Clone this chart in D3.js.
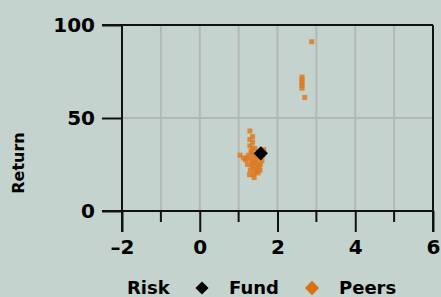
<!DOCTYPE html>
<html>
<head>
<meta charset="utf-8">
<script src="https://cdn.jsdelivr.net/npm/d3@7"></script>
<style>
  body { margin: 0; background: #c5d3ce; }
  svg { display: block; font-family: "DejaVu Sans", sans-serif; font-weight: bold; }
</style>
</head>
<body>
<svg id="chart" width="441" height="297"></svg>
<script>
// risk / return scatter: fund vs peers

var xTicks = [-2, 0, 2, 4, 6]
var xMinorTicks = [-1, 1, 3, 5]
var yTicks = [0, 50, 100]

var fundRisk = [1.57]
var fundReturn = [31]

var peersRisk = [1.29, 1.36, 1.29, 1.36, 1.29, 1.36, 1.42, 1.32, 1.04, 1.12, 1.18, 1.25, 1.30, 1.38,
  1.45, 1.52, 1.60, 1.56, 1.23, 1.35, 1.48, 1.40, 1.30, 1.55, 1.45, 1.28, 1.38, 1.50, 1.42, 1.33,
  1.65, 1.62, 1.40, 1.47, 1.34, 1.52, 1.40, 1.20,
  2.88, 2.63, 2.63, 2.63, 2.63, 2.63, 2.70]
var peersReturn = [43, 40, 38.5, 37, 35, 34, 33.5, 32, 30, 28.5, 27.5, 30, 28, 27,
  29, 28.5, 27, 25, 25, 24, 23.5, 22.5, 22, 22, 21, 19.5, 19.5, 20.5, 26, 31,
  33, 30, 30, 26, 25.5, 24, 18, 28.5,
  91, 72, 70.5, 69, 67.5, 66, 61]

var svg = d3.select('#chart')
var plotLeft = 122, plotRight = 433, plotTop = 25, plotBottom = 211

var x = d3.scaleLinear().domain([-2, 6]).range([plotLeft, plotRight])
var y = d3.scaleLinear().domain([0, 100]).range([plotBottom, plotTop])

// grid
svg.append('g').selectAll('line')
  .data(d3.range(-1, 6))
  .join('line')
  .attr('x1', function(d){ return x(d) }).attr('x2', function(d){ return x(d) })
  .attr('y1', plotTop).attr('y2', plotBottom)
  .attr('stroke', '#b2b8b6').attr('stroke-width', 2)
svg.append('line')
  .attr('x1', plotLeft).attr('x2', plotRight)
  .attr('y1', y(50)).attr('y2', y(50))
  .attr('stroke', '#b2b8b6').attr('stroke-width', 2)

// frame lines (top + right)
svg.append('line').attr('x1', plotLeft - 20).attr('x2', plotRight).attr('y1', y(100)).attr('y2', y(100))
  .attr('stroke', '#111').attr('stroke-width', 2)
svg.append('line').attr('x1', plotRight).attr('x2', plotRight).attr('y1', plotTop).attr('y2', plotBottom + 21)
  .attr('stroke', '#111').attr('stroke-width', 2)

// x axis
var xAxis = d3.axisBottom(x).tickValues(xTicks).tickSize(21).tickPadding(8)
  .tickFormat(function(d){ return d < 0 ? '\u2013' + Math.abs(d) : d })
var gx = svg.append('g').attr('transform', 'translate(0,' + plotBottom + ')').call(xAxis)
gx.select('.domain').attr('stroke', '#111').attr('stroke-width', 2)
  .attr('d', 'M' + (plotLeft - 20) + ',0H' + plotRight)
gx.selectAll('.tick line').attr('stroke', '#111').attr('stroke-width', 2)
gx.selectAll('.tick text').attr('fill', '#000').style('font-size', '20px').style('font-weight', 'bold')
  .style('font-family', '"DejaVu Sans", sans-serif')

svg.append('g').selectAll('line')
  .data(xMinorTicks)
  .join('line')
  .attr('x1', function(d){ return x(d) }).attr('x2', function(d){ return x(d) })
  .attr('y1', plotBottom).attr('y2', plotBottom + 11)
  .attr('stroke', '#111').attr('stroke-width', 2)

// y axis
var yAxis = d3.axisLeft(y).tickValues(yTicks).tickSize(20).tickPadding(7)
var gy = svg.append('g').attr('transform', 'translate(' + plotLeft + ',0)').call(yAxis)
gy.select('.domain').attr('stroke', '#111').attr('stroke-width', 2)
  .attr('d', 'M0,' + plotTop + 'V' + (plotBottom + 21))
gy.selectAll('.tick line').attr('stroke', '#111').attr('stroke-width', 2)
gy.selectAll('.tick text').attr('fill', '#000').style('font-size', '20px').style('font-weight', 'bold')
  .style('font-family', '"DejaVu Sans", sans-serif')

svg.append('text')
  .attr('transform', 'translate(24,163) rotate(-90)')
  .attr('text-anchor', 'middle')
  .attr('fill', '#000')
  .style('font-size', '16px')
  .text('Return')

// peers
var peers = peersRisk.map(function(r, i){ return [r, peersReturn[i]] })
svg.append('g').selectAll('rect')
  .data(peers)
  .join('rect')
  .attr('x', function(d){ return x(d[0]) - 2.5 })
  .attr('y', function(d){ return y(d[1]) - 2.5 })
  .attr('width', 5).attr('height', 5)
  .attr('fill', '#dc7a22').attr('fill-opacity', 0.85)

// fund
var diamond = d3.symbol().type(d3.symbolDiamond2)
svg.append('g').selectAll('path')
  .data(fundRisk.map(function(r, i){ return [r, fundReturn[i]] }))
  .join('path')
  .attr('transform', function(d){ return 'translate(' + x(d[0]) + ',' + y(d[1]) + ')' })
  .attr('d', diamond.size(130)())
  .attr('fill', '#000')

// legend row
var leg = svg.append('g').style('font-size', '18px').attr('fill', '#000')
leg.append('text').attr('x', 127).attr('y', 294).text('Risk')
leg.append('path').attr('transform', 'translate(202,288)').attr('d', diamond.size(110)()).attr('fill', '#000')
leg.append('text').attr('x', 229).attr('y', 294).text('Fund')
leg.append('path').attr('transform', 'translate(312,288)').attr('d', diamond.size(130)()).attr('fill', '#d9700f')
leg.append('text').attr('x', 339).attr('y', 294).text('Peers')
</script>
</body>
</html>
